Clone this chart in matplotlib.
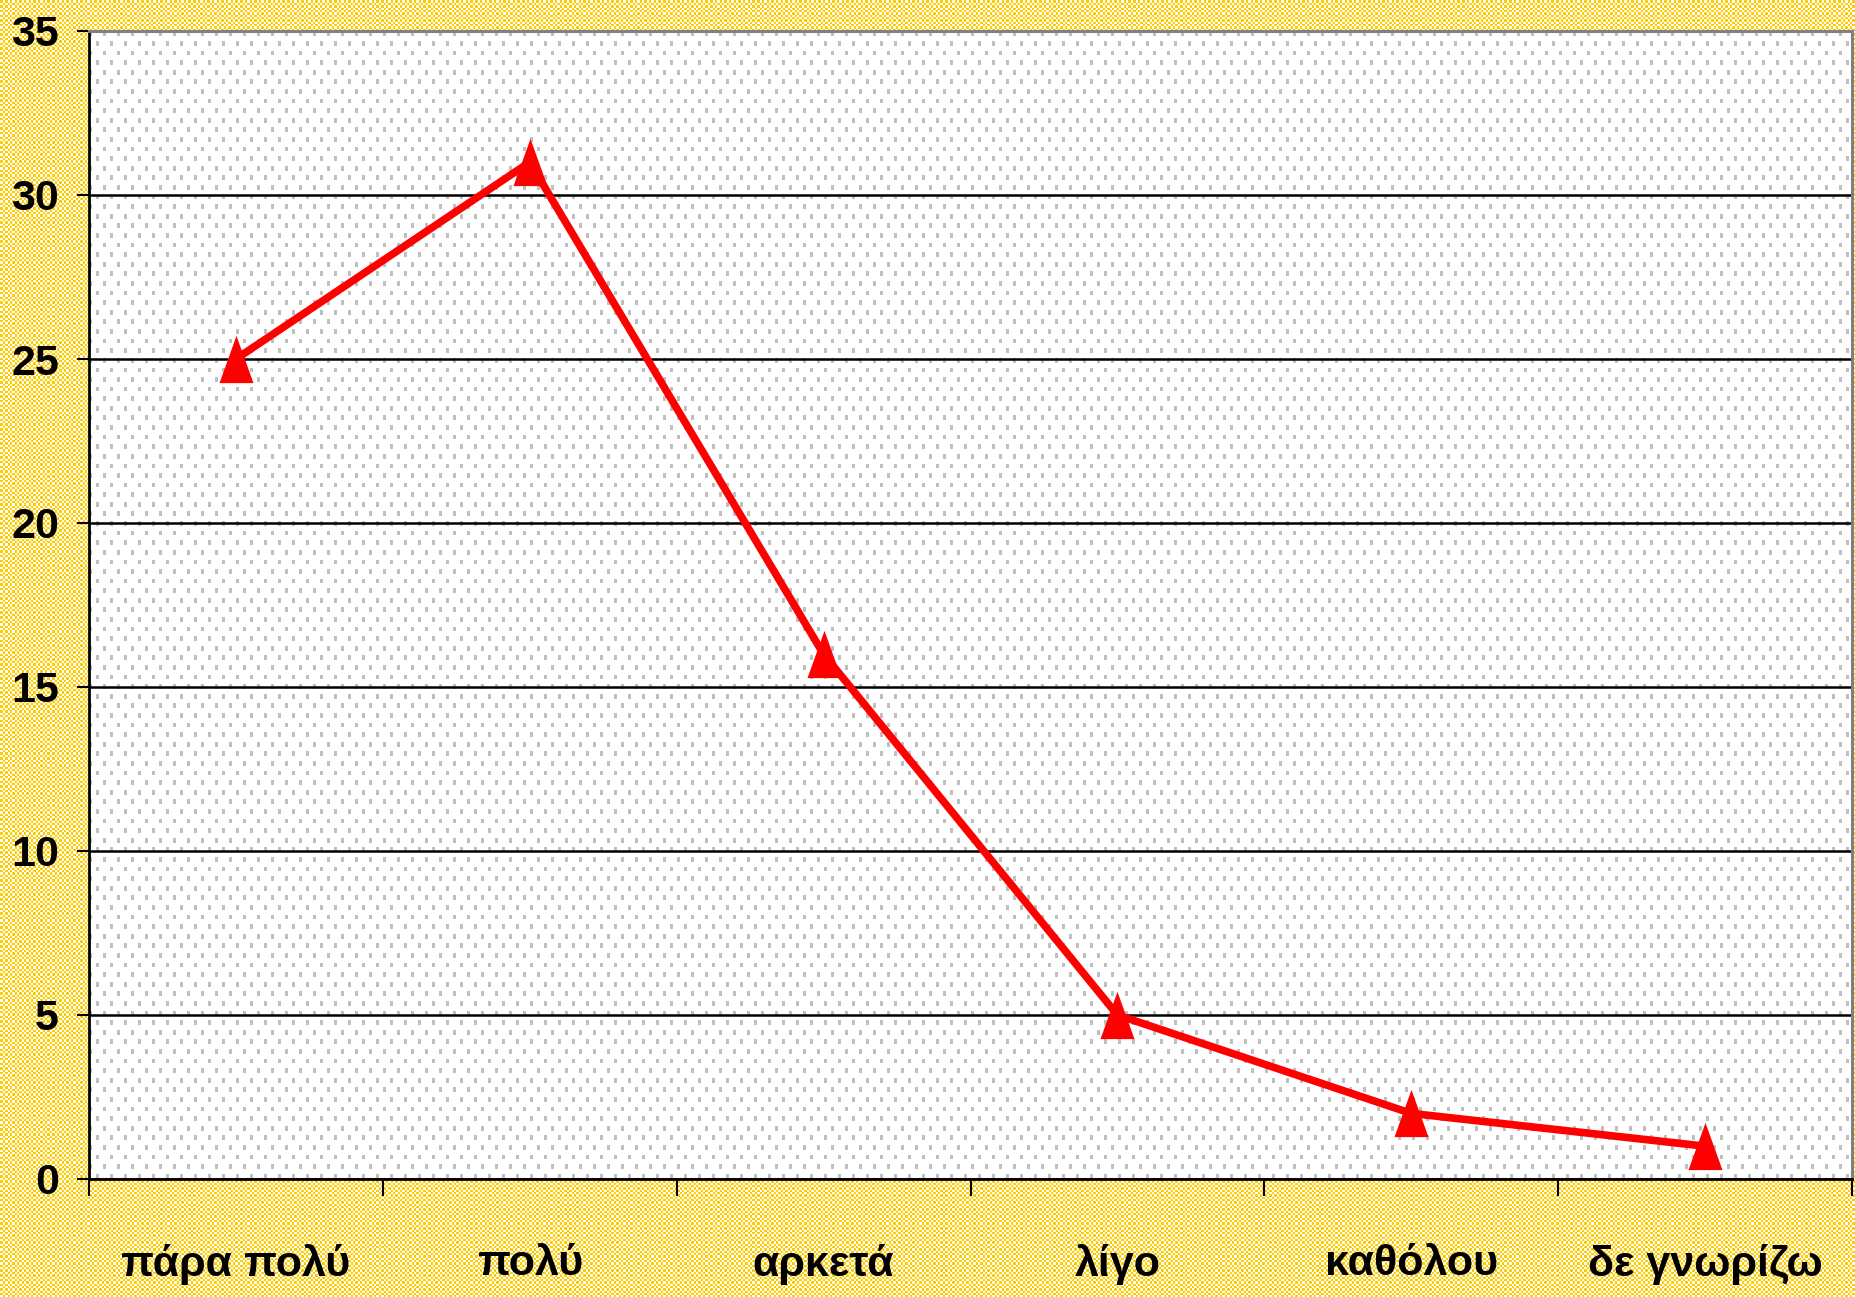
import numpy as np
import matplotlib.pyplot as plt

categories = ['πάρα πολύ', 'πολύ', 'αρκετά', 'λίγο', 'καθόλου', 'δε γνωρίζω']
values = [25, 31, 16, 5, 2, 1]
yticks = [0, 5, 10, 15, 20, 25, 30, 35]

W, H = 1855, 1297
# axes box in pixels (from top-left)
L, R, T, B = 89, 1852, 31, 1179

plt.rcParams['font.family'] = ['Liberation Sans', 'DejaVu Sans']
plt.rcParams['font.weight'] = 'bold'

# background: yellow/white checker, white plot area with grey dots
yy, xx = np.mgrid[0:H, 0:W]
s = 2.35
chk = ((np.floor(xx / s) + np.floor(yy / s)) % 2) == 0
img = np.ones((H, W, 3))
img[chk] = [1.0, 0.8, 0.0]
inside = (xx >= L) & (xx <= R) & (yy >= T) & (yy <= B)
img[inside] = 1.0
rx, ry = xx - L, yy - T
rowA = (ry % 19.2) < 4.7
rowB = ((ry - 9.6) % 19.2) < 4.7
dots = inside & ((rowA & ((rx % 14) < 3)) | (rowB & (((rx - 7) % 14) < 3)))
img[dots] = 0.75

fig = plt.figure(figsize=(W / 100, H / 100), dpi=100)
fig.figimage(img, 0, 0, origin='upper', zorder=-10)
ax = fig.add_axes([L / W, (H - B) / H, (R - L) / W, (B - T) / H])
ax.set_facecolor('none')

x = np.arange(len(categories)) + 0.5
tri = [(0, 1), (-0.72, -1), (0.72, -1)]
ax.plot(x, values, color='#ff0000', lw=5.5, marker=tri, ms=34,
        mfc='#ff0000', mec='#ff0000', mew=0, zorder=3, clip_on=False)

ax.set_xlim(0, len(categories))
ax.set_ylim(0, 35)
ax.set_yticks(yticks)
ax.set_yticklabels([str(v) for v in yticks])
ax.set_xticks(np.arange(len(categories) + 1))
ax.set_xticklabels([])
ax.set_xticks(x, categories, minor=True)

ax.yaxis.grid(True, color='black', lw=1.8)
ax.tick_params(axis='y', direction='out', length=8.6, width=1.5, pad=13, labelsize=31)
ax.tick_params(axis='x', which='major', direction='out', length=12, width=1.5)
ax.tick_params(axis='x', which='minor', length=0, pad=47, labelsize=31)

for side in ['left', 'bottom']:
    ax.spines[side].set_color('black')
    ax.spines[side].set_linewidth(2)
for side in ['top', 'right']:
    ax.spines[side].set_color('#808080')
    ax.spines[side].set_linewidth(2.2)

fig.savefig('out.png', dpi=100)
